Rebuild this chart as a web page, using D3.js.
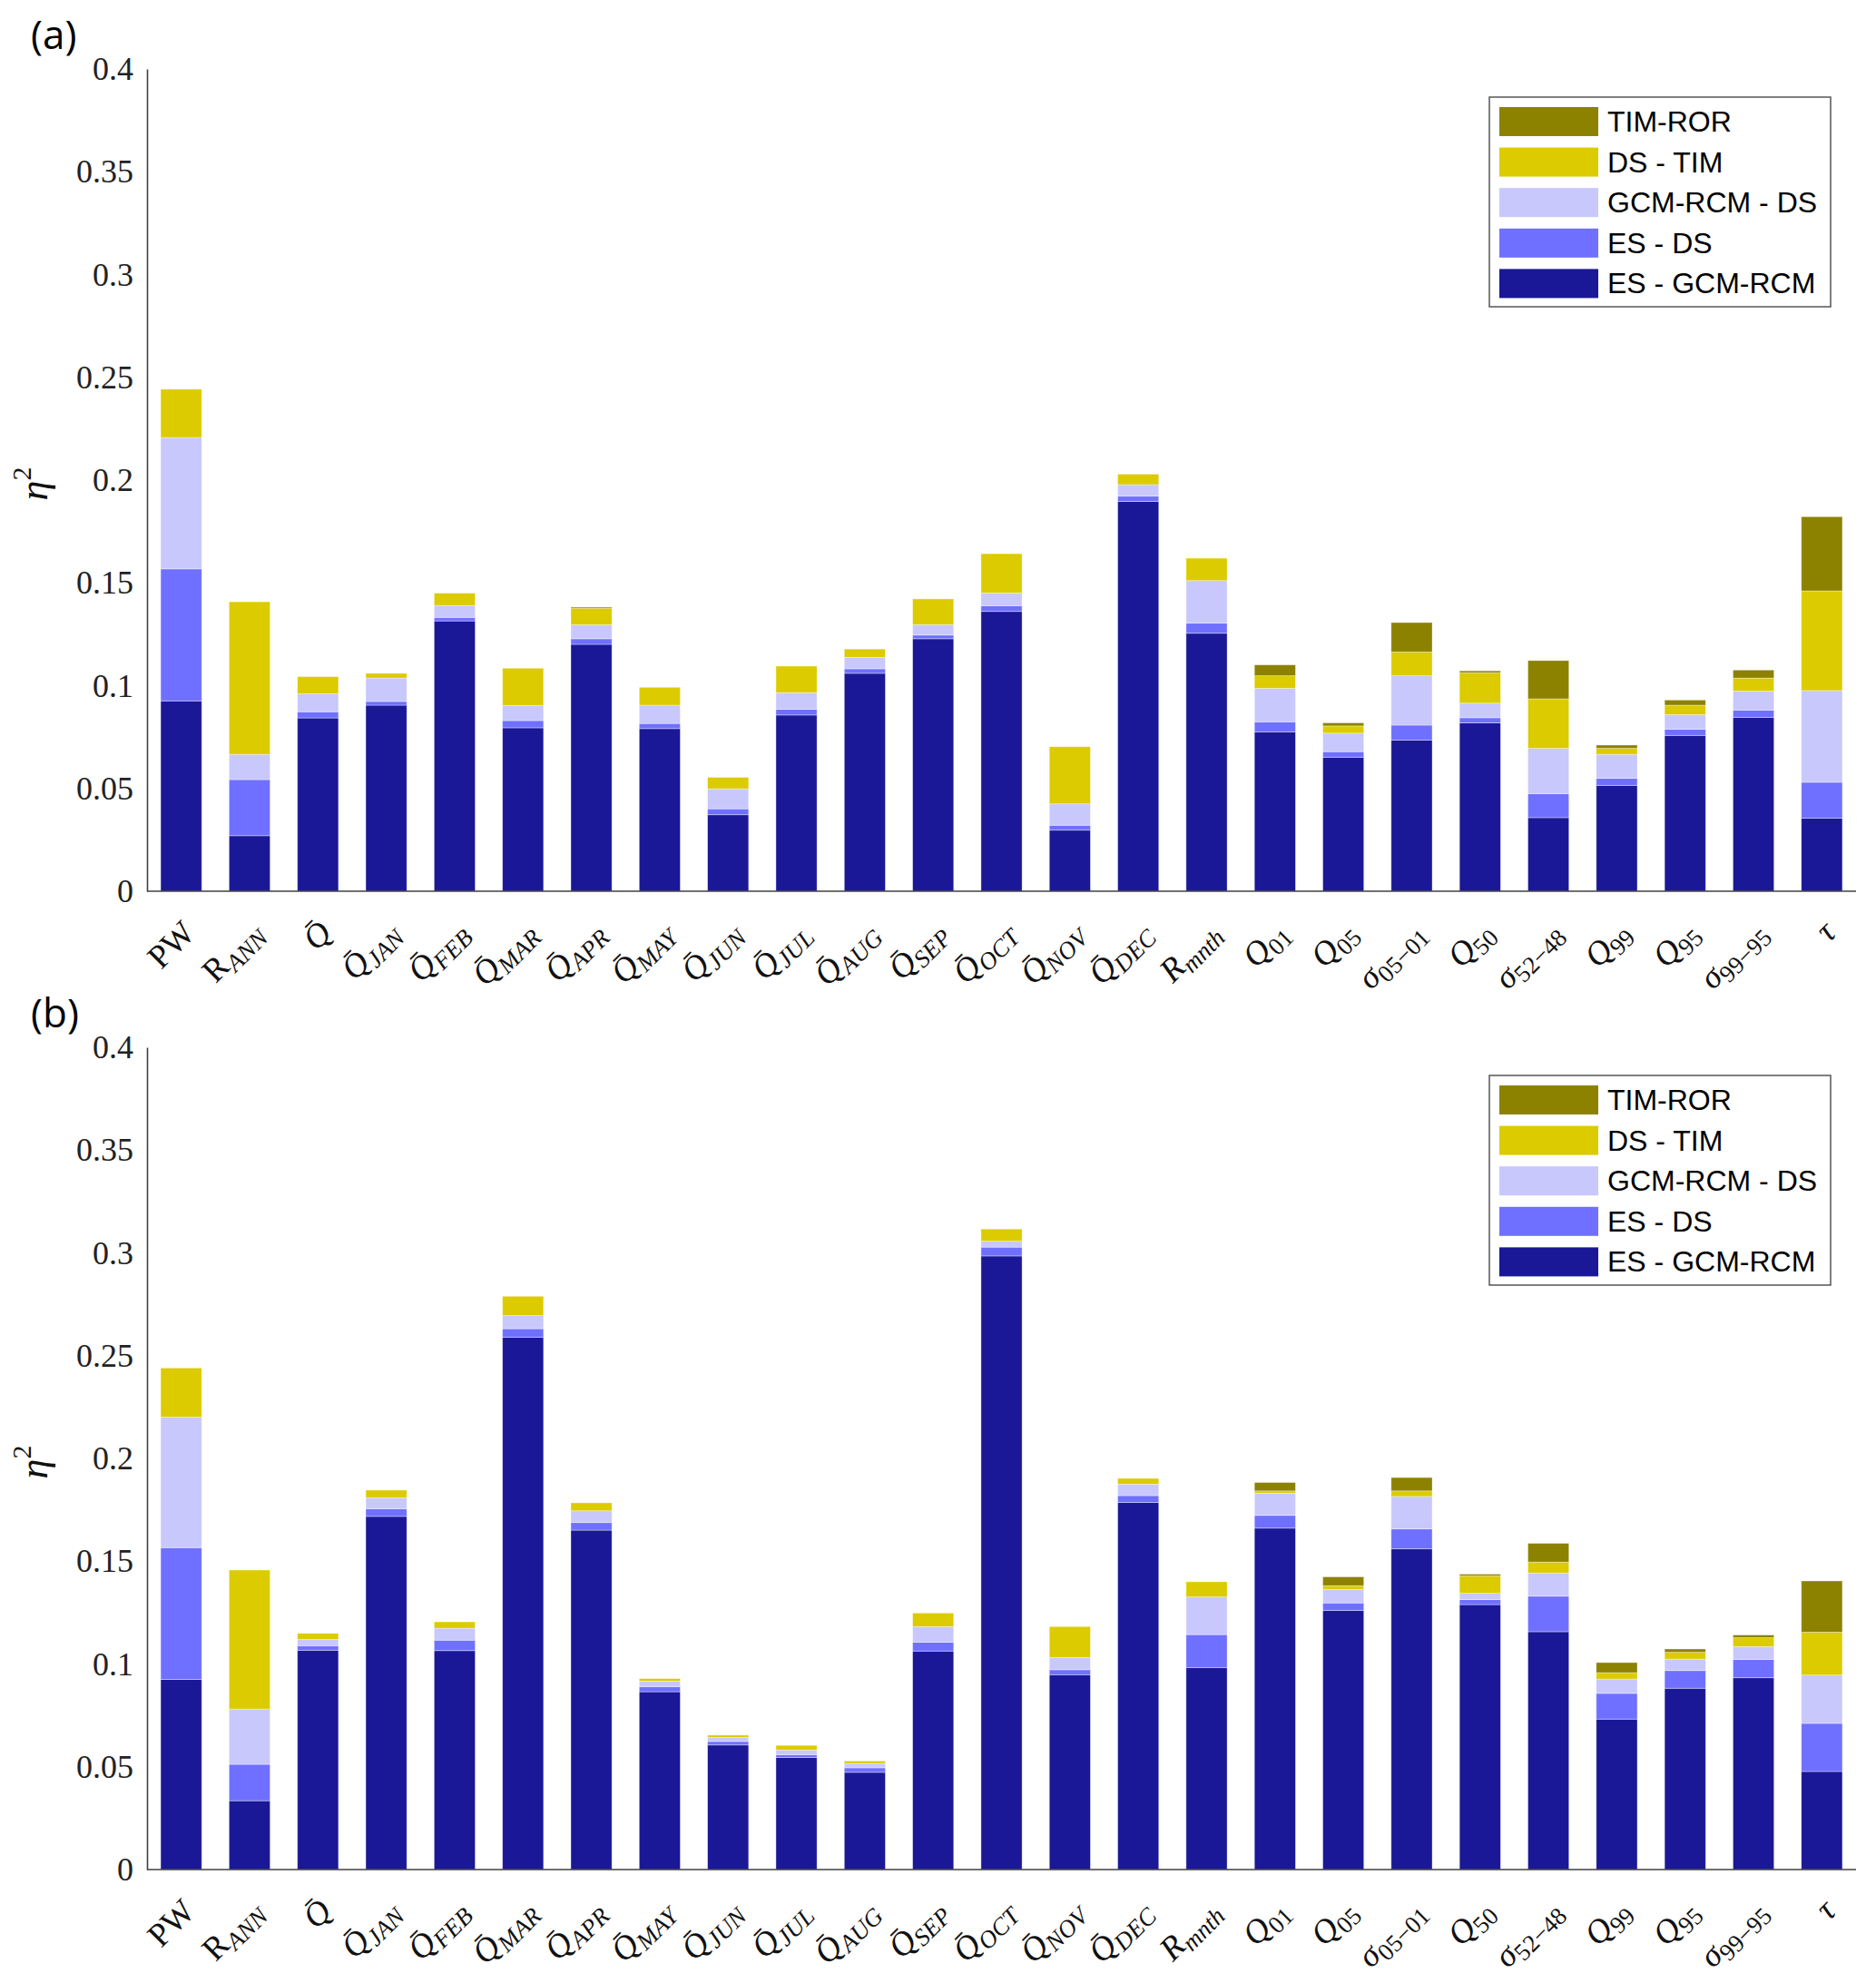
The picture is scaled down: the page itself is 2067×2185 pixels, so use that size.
<!DOCTYPE html>
<html><head><meta charset="utf-8">
<script src="https://cdn.jsdelivr.net/npm/d3@7"></script>
<style>body{margin:0;background:#fff}svg{display:block}</style>
</head><body>
<svg id="chart" width="2067" height="2185"></svg>
<script>
// ---------- data ----------
const categories = ["PW","RANN","Q","QJAN","QFEB","QMAR","QAPR","QMAY","QJUN","QJUL","QAUG","QSEP","QOCT","QNOV","QDEC","Rmnth","Q01","Q05","s05_01","Q50","s52_48","Q99","Q95","s99_95","tau"];
const seriesNames = ["ES - GCM-RCM","ES - DS","GCM-RCM - DS","DS - TIM","TIM-ROR"];
const legendOrder = ["TIM-ROR","DS - TIM","GCM-RCM - DS","ES - DS","ES - GCM-RCM"];
const yTicks = [0,0.05,0.1,0.15,0.2,0.25,0.3,0.35,0.4];
const panelLabels = ["(a)","(b)"];

// panel (a) segment values
const a_ES_GCM = [0.0926,0.0270,0.0843,0.0905,0.1315,0.0795,0.1201,0.0791,0.0372,0.0857,0.1060,0.1228,0.1361,0.0297,0.1896,0.1255,0.0775,0.0652,0.0735,0.0819,0.0358,0.0515,0.0758,0.0846,0.0355];
const a_ES_DS  = [0.0642,0.0273,0.0030,0.0018,0.0017,0.0035,0.0027,0.0025,0.0029,0.0028,0.0022,0.0018,0.0028,0.0024,0.0026,0.0049,0.0049,0.0027,0.0073,0.0025,0.0116,0.0034,0.0030,0.0035,0.0175];
const a_GCM_DS = [0.0639,0.0123,0.0087,0.0114,0.0058,0.0074,0.0068,0.0089,0.0097,0.0081,0.0056,0.0051,0.0062,0.0104,0.0056,0.0207,0.0163,0.0090,0.0240,0.0071,0.0221,0.0117,0.0071,0.0093,0.0446];
const a_DS_TIM = [0.0235,0.0742,0.0084,0.0023,0.0060,0.0181,0.0081,0.0087,0.0056,0.0129,0.0040,0.0125,0.0191,0.0278,0.0051,0.0109,0.0061,0.0035,0.0116,0.0148,0.0241,0.0029,0.0046,0.0063,0.0485];
const a_TIM_ROR= [0,0,0,0,0,0,0.0005,0,0,0,0,0,0,0,0,0,0.0053,0.0015,0.0143,0.0009,0.0186,0.0016,0.0025,0.0039,0.0361];

// panel (b) segment values
const b_ES_GCM = [0.0925,0.0335,0.1067,0.1718,0.1065,0.2590,0.1651,0.0865,0.0606,0.0545,0.0473,0.1063,0.2985,0.0948,0.1786,0.0983,0.1661,0.1260,0.1560,0.1289,0.1157,0.0732,0.0882,0.0933,0.0477];
const b_ES_DS  = [0.0641,0.0177,0.0022,0.0037,0.0051,0.0041,0.0037,0.0025,0.0017,0.0014,0.0022,0.0043,0.0043,0.0024,0.0033,0.0160,0.0062,0.0037,0.0097,0.0024,0.0173,0.0125,0.0086,0.0089,0.0234];
const b_GCM_DS = [0.0635,0.0269,0.0031,0.0054,0.0058,0.0064,0.0057,0.0027,0.0020,0.0023,0.0021,0.0076,0.0029,0.0060,0.0056,0.0183,0.0108,0.0066,0.0158,0.0031,0.0113,0.0070,0.0056,0.0063,0.0235];
const b_DS_TIM = [0.0239,0.0676,0.0029,0.0037,0.0031,0.0094,0.0039,0.0012,0.0011,0.0022,0.0012,0.0066,0.0059,0.0150,0.0028,0.0074,0.0011,0.0018,0.0027,0.0085,0.0053,0.0031,0.0033,0.0043,0.0209];
const b_TIM_ROR= [0,0,0,0,0,0,0,0,0,0,0,0,0,0,0,0,0.0041,0.0043,0.0065,0.0008,0.0091,0.0049,0.0016,0.0013,0.0249];

// tick label pieces: [text, kind]  r=roman, i=italic, s=italic subscript, d=roman subscript
const tickLabelParts = [
  [["PW","r"]],
  [["R","r"],["ANN","s"]],
  [["Q\u0304","i"]],
  [["Q\u0304","i"],["JAN","s"]],
  [["Q\u0304","i"],["FEB","s"]],
  [["Q\u0304","i"],["MAR","s"]],
  [["Q\u0304","i"],["APR","s"]],
  [["Q\u0304","i"],["MAY","s"]],
  [["Q\u0304","i"],["JUN","s"]],
  [["Q\u0304","i"],["JUL","s"]],
  [["Q\u0304","i"],["AUG","s"]],
  [["Q\u0304","i"],["SEP","s"]],
  [["Q\u0304","i"],["OCT","s"]],
  [["Q\u0304","i"],["NOV","s"]],
  [["Q\u0304","i"],["DEC","s"]],
  [["R","i"],["mnth","s"]],
  [["Q","i"],["01","d"]],
  [["Q","i"],["05","d"]],
  [["\u03C3","i"],["05\u221201","d"]],
  [["Q","i"],["50","d"]],
  [["\u03C3","i"],["52\u221248","d"]],
  [["Q","i"],["99","d"]],
  [["Q","i"],["95","d"]],
  [["\u03C3","i"],["99\u221295","d"]],
  [["\u03C4","i"]]
];

const colors = {"ES - GCM-RCM":"#1a1896","ES - DS":"#6f70ff","GCM-RCM - DS":"#c8c8fc","DS - TIM":"#dccb00","TIM-ROR":"#8c8200"};

const panels = [
  {label: panelLabels[0], series: [a_ES_GCM,a_ES_DS,a_GCM_DS,a_DS_TIM,a_TIM_ROR], top: 76, bottom: 982},
  {label: panelLabels[1], series: [b_ES_GCM,b_ES_DS,b_GCM_DS,b_DS_TIM,b_TIM_ROR], top: 1154, bottom: 2060}
];

// ---------- drawing ----------
const svg = d3.select("#chart");
const serif = "'Liberation Serif','DejaVu Serif',serif";
const sans = "'Liberation Sans',Arial,sans-serif";
const left = 162, right = 2045;

const x = d3.scaleBand().domain(categories).range([left, right]).paddingInner(0.4).paddingOuter(0.2);

panels.forEach(p => {
  const g = svg.append("g");
  const y = d3.scaleLinear().domain([0, 0.4]).range([p.bottom, p.top]);

  const rows = categories.map((c, i) => {
    const o = {cat: c};
    seriesNames.forEach((s, k) => o[s] = p.series[k][i]);
    return o;
  });
  const stacked = d3.stack().keys(seriesNames)(rows);

  g.selectAll("g.layer").data(stacked).join("g")
    .attr("class","layer")
    .attr("fill", d => colors[d.key])
    .selectAll("rect").data(d => d).join("rect")
    .attr("x", d => x(d.data.cat))
    .attr("width", x.bandwidth())
    .attr("y", d => y(d[1]))
    .attr("height", d => Math.max(0, y(d[0]) - y(d[1])))
    .attr("stroke", "rgba(255,255,255,0.45)")
    .attr("stroke-width", 0.8);

  // y axis
  const ya = g.append("g").attr("transform", `translate(${left},0)`)
    .call(d3.axisLeft(y).tickValues(yTicks).tickSize(0).tickSizeOuter(0).tickPadding(15)
      .tickFormat(d => String(+d.toFixed(2))));
  ya.select(".domain").attr("stroke","#404040").attr("stroke-width",1.6);
  ya.selectAll("text").attr("font-family", serif).attr("font-size", 36).attr("fill","#222");

  // x axis
  const xa = g.append("g").attr("transform", `translate(0,${p.bottom})`)
    .call(d3.axisBottom(x).tickSize(0).tickSizeOuter(0).tickFormat(""));
  xa.select(".domain").attr("stroke","#404040").attr("stroke-width",1.6)
    .attr("d", `M${left},0H${right}`);

  // tick labels
  categories.forEach((c, i) => {
    const cx = x(c) + x.bandwidth() / 2;
    const tx = cx + 17, ty = p.bottom + 48;
    const t = g.append("text")
      .attr("transform", `translate(${tx},${ty}) rotate(-45)`)
      .attr("text-anchor", "end")
      .attr("font-family", serif)
      .attr("font-size", 37)
      .attr("fill", "#111");
    let shifted = 0;
    tickLabelParts[i].forEach(([txt, kind]) => {
      const ts = t.append("tspan").text(txt);
      if (kind === "i") ts.attr("font-style","italic");
      if (kind === "s" || kind === "d") {
        ts.attr("font-size", 27).attr("dy", 7 - shifted);
        shifted = 7;
        if (kind === "s") ts.attr("font-style","italic");
      }
    });
  });

  // y label
  const yl = g.append("text")
    .attr("transform", `translate(52,${(p.top + p.bottom) / 2 + 4}) rotate(-90)`)
    .attr("text-anchor", "middle")
    .attr("font-family", serif)
    .attr("font-size", 44)
    .attr("fill", "#111");
  yl.append("tspan").attr("font-style","italic").text("\u03B7");
  yl.append("tspan").attr("font-size", 30).attr("dy", -18).text("2");

  // panel label
  g.append("text")
    .attr("x", 34).attr("y", p.top - 22)
    .attr("font-family", "'Open Sans','Liberation Sans',sans-serif")
    .attr("font-size", 44)
    .attr("fill", "#000")
    .text(p.label);

  // legend
  const lx = 1641, ly = p.top + 31;
  const lg = g.append("g");
  lg.append("rect").attr("x", lx).attr("y", ly).attr("width", 376).attr("height", 231)
    .attr("fill", "#fff").attr("stroke", "#555").attr("stroke-width", 1.5);
  legendOrder.forEach((name, k) => {
    const ry = ly + 11 + k * 44.6;
    lg.append("rect").attr("x", lx + 11).attr("y", ry).attr("width", 109).attr("height", 32)
      .attr("fill", colors[name]);
    lg.append("text").attr("x", lx + 130).attr("y", ry + 16)
      .attr("dominant-baseline", "central")
      .attr("font-family", sans).attr("font-size", 32).attr("fill", "#000")
      .text(name);
  });
});
</script>
</body></html>
